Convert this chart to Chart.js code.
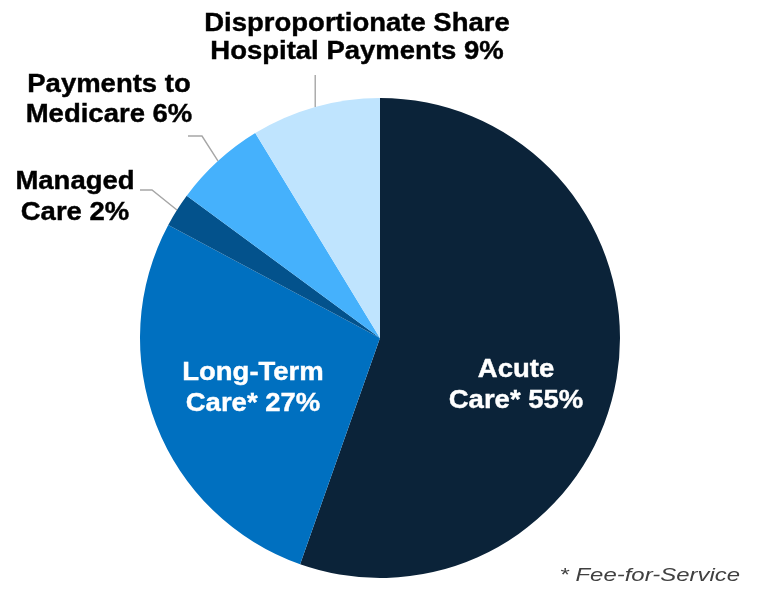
<!DOCTYPE html>
<html>
<head>
<meta charset="utf-8">
<script src="https://cdn.jsdelivr.net/npm/chart.js@4"></script>
<style>
  html, body { margin: 0; padding: 0; background: #ffffff; }
  #wrap { width: 758px; height: 591px; position: relative; }
</style>
</head>
<body>
<div id="wrap"><canvas id="c" width="758" height="591"></canvas></div>
<script>
// ---- Data ----
const categories = ['Acute Care*', 'Long-Term Care*', 'Managed Care', 'Payments to Medicare', 'Disproportionate Share Hospital Payments'];
const shares = [55.4, 27.4, 2.3, 6.2, 8.7];
const sliceLabels = [
  ['Acute', 'Care* 55%'],
  ['Long-Term', 'Care* 27%'],
  ['Managed', 'Care 2%'],
  ['Payments to', 'Medicare 6%'],
  ['Disproportionate Share', 'Hospital Payments 9%']
];
const footnote = '* Fee-for-Service';

// ---- Styles / layout ----
const colors = ['#0B2339', '#0070C0', '#03528C', '#45B1FC', '#BFE4FE'];
const labelLayout = [
  { inside: true, x: 516, baselines: [377, 408], color: '#ffffff' },
  { inside: true, x: 253, baselines: [380, 411], color: '#ffffff' },
  { inside: false, x: 75, baselines: [189, 220], color: '#000000', elbow: [152, 190], end: [140, 190] },
  { inside: false, x: 109, baselines: [92, 122], color: '#000000', elbow: [202, 136], end: [188, 136] },
  { inside: false, x: 357, baselines: [31, 59], color: '#000000', elbow: null, end: 'vertical', endY: 75 }
];
const textStretch = 1.1;

function stretchedText(ctx, text, x, y, sx, strokeW) {
  ctx.save();
  ctx.translate(x, y);
  ctx.scale(sx, 1);
  ctx.fillText(text, 0, 0);
  if (strokeW) {
    ctx.lineWidth = strokeW;
    ctx.strokeStyle = ctx.fillStyle;
    ctx.strokeText(text, 0, 0);
  }
  ctx.restore();
}

const labelPlugin = {
  id: 'sliceLabels',
  afterDatasetsDraw(chart) {
    const ctx = chart.ctx;
    const meta = chart.getDatasetMeta(0);
    ctx.save();
    meta.data.forEach((arc, i) => {
      const L = labelLayout[i];
      const p = arc.getProps(['x', 'y', 'startAngle', 'endAngle', 'outerRadius'], true);
      if (!L.inside) {
        const mid = (p.startAngle + p.endAngle) / 2;
        const sx = p.x + Math.cos(mid) * p.outerRadius;
        const sy = p.y + Math.sin(mid) * p.outerRadius;
        ctx.strokeStyle = '#A6A6A6';
        ctx.lineWidth = 1.4;
        ctx.beginPath();
        ctx.moveTo(sx, sy);
        if (L.end === 'vertical') {
          ctx.lineTo(sx, L.endY);
        } else {
          ctx.lineTo(L.elbow[0], L.elbow[1]);
          ctx.lineTo(L.end[0], L.end[1]);
        }
        ctx.stroke();
      }
      ctx.fillStyle = L.color;
      ctx.font = 'bold 25px "Liberation Sans", Arial, sans-serif';
      ctx.textAlign = 'center';
      ctx.textBaseline = 'alphabetic';
      sliceLabels[i].forEach((line, k) => {
        stretchedText(ctx, line, L.x, L.baselines[k], textStretch, 0.4);
      });
    });
    ctx.font = 'italic 19px "Liberation Sans", Arial, sans-serif';
    ctx.fillStyle = '#404040';
    ctx.textAlign = 'right';
    stretchedText(ctx, footnote, 740, 581, 1.26, 0);
    ctx.restore();
  }
};

new Chart(document.getElementById('c'), {
  type: 'pie',
  data: {
    labels: categories,
    datasets: [{
      data: shares,
      backgroundColor: colors,
      borderWidth: 0
    }]
  },
  options: {
    responsive: false,
    animation: false,
    layout: { padding: { left: 140, right: 138, top: 98, bottom: 13 } },
    plugins: {
      legend: { display: false },
      tooltip: { enabled: false }
    }
  },
  plugins: [labelPlugin]
});
</script>
</body>
</html>
